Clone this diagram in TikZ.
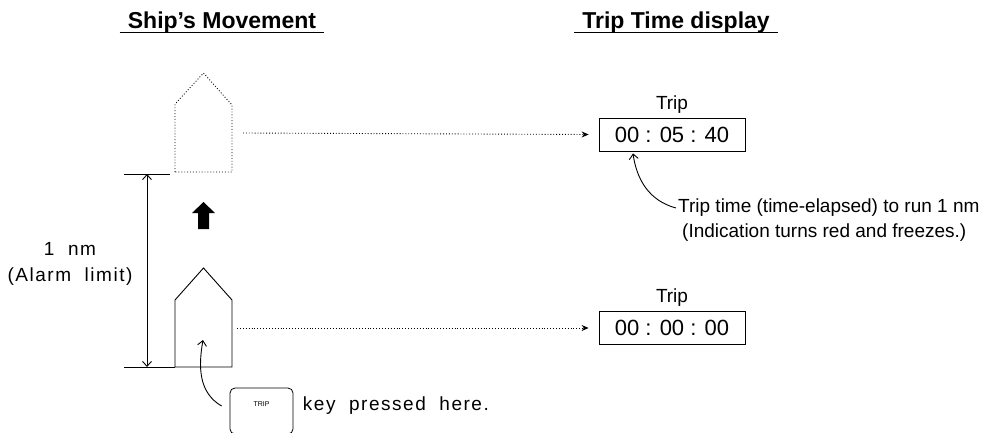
\documentclass[tikz,border=0pt]{standalone}
\usepackage{fontspec}
\setmainfont{Liberation Sans}
\usetikzlibrary{arrows.meta,positioning,calc}

\begin{document}
\begin{tikzpicture}[
  x=1pt, y=-1pt,
  font=\fontsize{19}{25}\selectfont,
  >=Stealth,
  heading/.style={font=\fontsize{23}{27}\selectfont\bfseries, inner xsep=8pt},
  wide/.style={font=\fontsize{19}{26}\selectfont\addfontfeature{LetterSpace=8}},
  hull/.style={line width=0.9pt, line join=miter},
  ghost/.style={hull, dotted},
  readout/.style={draw, line width=0.8pt, minimum width=146pt, minimum height=33pt,
    font=\fontsize{22}{26}\selectfont, inner sep=0pt},
  lead/.style={dotted, line width=0.9pt, -{Stealth[length=7pt,width=6pt]}},
  hook/.style={line width=0.9pt, -{Straight Barb[length=5pt,width=9pt]}},
  keycap/.style={draw, line width=0.8pt, rounded corners=5pt, minimum width=63pt,
    minimum height=46pt, font=\fontsize{7}{8}\selectfont, text depth=14pt}
]
  \path[use as bounding box, clip] (0,0) rectangle (995,432);

  % headings
  \node[heading] (hship) at (222,23) {Ship’s Movement};
  \node[heading] (htrip) at (676,23) {Trip Time display};
  \draw[line width=1pt] ([yshift=-4pt]hship.base west) -- ([yshift=-4pt]hship.base east);
  \draw[line width=1pt] ([yshift=-4pt]htrip.base west) -- ([yshift=-4pt]htrip.base east);

  % ship at start (solid) and after 1 nm (dotted)
  \draw[hull] (175,367) -- (175,300) -- (203.5,268) -- (232,300) -- (232,367) -- cycle;
  \draw[ghost] (175,172) -- (175,104) -- (203.5,73) -- (232,105) -- (232,172) -- cycle;
  \coordinate (bow0) at (237,328);
  \coordinate (bow1) at (243,133);
  \coordinate (hit) at (203,340);
  \fill (198,229) -- (198,213) -- (192,213) -- (203.5,202) -- (215,213) -- (209,213)
    -- (209,229) -- cycle;

  % 1 nm span
  \coordinate (lim1) at (124,174);
  \coordinate (lim0) at (124,367);
  \draw[line width=0.8pt] (lim1) -- (170,174);
  \draw[line width=0.6pt] (lim0) -- (175,367);
  \draw[line width=0.9pt, {Straight Barb[length=5pt,width=9pt]}-{Straight Barb[length=5pt,width=9pt]}]
    (147,174) -- (147,367);
  \node[wide, align=center] (span) at (70,264) {1\ \ nm\\(Alarm\ \ limit)};

  % trip readouts
  \node[readout] (tdone) at (672,134.5) {00 : 05 : 40};
  \node[above=1pt of tdone] (ldone) {Trip};
  \node[readout] (tnow) at (672,328) {00 : 00 : 00};
  \node[above=1pt of tnow] (lnow) {Trip};
  \draw[lead] (bow1) -- ([xshift=-10pt]tdone.west);
  \draw[lead] (bow0) -- ([xshift=-10pt]tnow.west);

  % note on the frozen reading
  \node[anchor=west, inner sep=0pt] (note1) at (678,208) {Trip time (time-elapsed) to run 1 nm};
  \node[anchor=west, inner sep=0pt] (note2) at (682,233) {(Indication turns red and freezes.)};
  \draw[hook] ([xshift=-2pt]note1.west) to[out=165,in=-82] ([xshift=-39pt,yshift=-2pt]tdone.south);

  % key
  \node[keycap] (key) at (261.5,411) {TRIP};
  \node[wide, right=6pt of key, yshift=5pt] (keytxt) {key\ \ pressed\ \ here.};
  \draw[hook] ([xshift=-8pt,yshift=5pt]key.west) to[out=150,in=-100] (hit);
\end{tikzpicture}
\end{document}
